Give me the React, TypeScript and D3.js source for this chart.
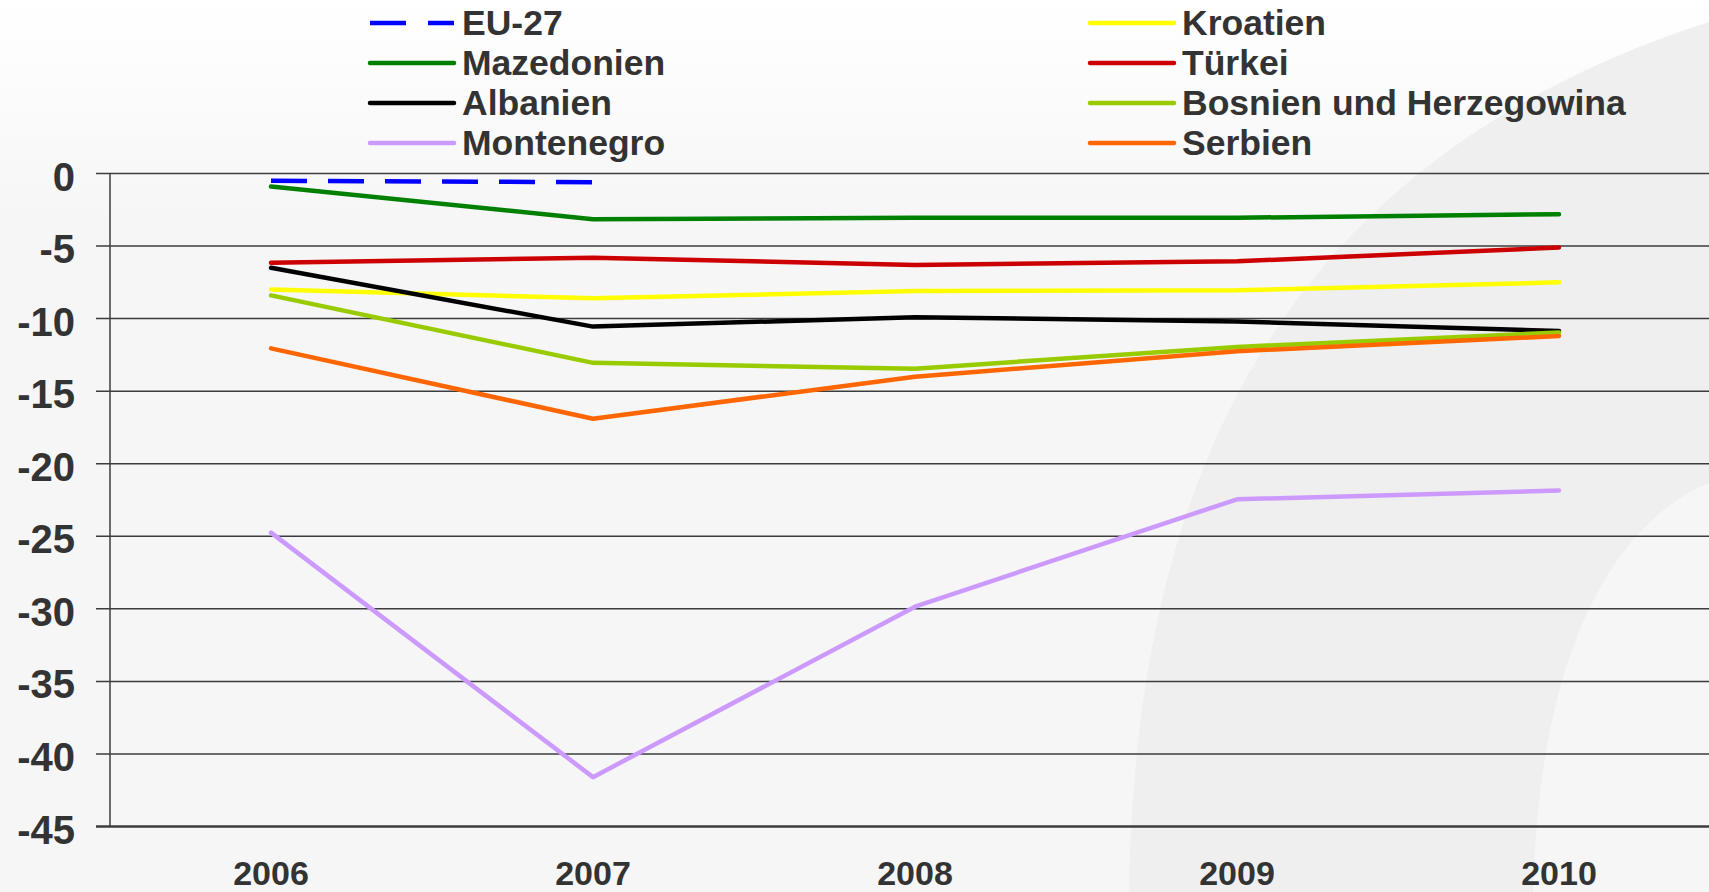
import React, { useRef, useEffect } from 'react';
import * as d3 from 'd3';

// --- DATA ---
const years = ['2006', '2007', '2008', '2009', '2010'];
const yTicks = [0, -5, -10, -15, -20, -25, -30, -35, -40, -45];

const eu27 = [-0.5, -0.6, null, null, null];
const mazedonien = [-0.9, -3.15, -3.05, -3.05, -2.8];
const albanien = [-6.5, -10.55, -9.9, -10.2, -10.85];
const montenegro = [-24.75, -41.6, -29.85, -22.45, -21.85];
const kroatien = [-8.0, -8.6, -8.1, -8.05, -7.5];
const tuerkei = [-6.15, -5.8, -6.3, -6.05, -5.1];
const bosnien = [-8.4, -13.05, -13.45, -11.95, -10.95];
const serbien = [-12.05, -16.9, -14.0, -12.25, -11.2];

// legend order: left column first row, right column first row, ...
const series = [
  { name: 'EU-27', values: eu27, color: '#0000ff', dash: '36 21' },
  { name: 'Kroatien', values: kroatien, color: '#ffff00' },
  { name: 'Mazedonien', values: mazedonien, color: '#008000' },
  { name: 'Türkei', values: tuerkei, color: '#cc0000' },
  { name: 'Albanien', values: albanien, color: '#000000' },
  { name: 'Bosnien und Herzegowina', values: bosnien, color: '#99cc00' },
  { name: 'Montenegro', values: montenegro, color: '#cc99ff' },
  { name: 'Serbien', values: serbien, color: '#ff6600' },
];

const W = 1709;
const H = 892;
const FONT = '"Liberation Sans", Arial, sans-serif';

export default function App() {
  const svgRef = useRef<SVGSVGElement>(null);

  useEffect(() => {
    if (!svgRef.current) return;
    const svg = d3.select(svgRef.current);
    svg.selectAll('*').remove();

    // plot area runs a little past the right edge of the window
    const x = d3.scalePoint<string>().domain(years).range([110, 1720]).padding(0.5);
    const y = d3.scaleLinear().domain([-45, 0]).range([826.5, 173.5]);

    // --- background ---
    const defs = svg.append('defs');
    const grad = defs.append('linearGradient')
      .attr('id', 'bg').attr('x1', 0).attr('y1', 0).attr('x2', 0).attr('y2', 1);
    grad.append('stop').attr('offset', '0%').attr('stop-color', '#ffffff');
    grad.append('stop').attr('offset', '25%').attr('stop-color', '#f6f6f6');
    grad.append('stop').attr('offset', '100%').attr('stop-color', '#f6f6f6');

    svg.append('rect').attr('width', W).attr('height', H).attr('fill', 'url(#bg)');

    // the soft swoosh on the right
    svg.append('path')
      .attr('d', `M1129,${H} C1135,520 1250,170 ${W},22 L${W},483 C1620,520 1540,640 1533,${H} Z`)
      .attr('fill', '#efefef');

    // --- grid + y axis ---
    svg.append('g')
      .selectAll('line')
      .data(yTicks)
      .enter()
      .append('line')
      .attr('x1', 96)
      .attr('x2', W)
      .attr('y1', d => y(d))
      .attr('y2', d => y(d))
      .attr('stroke', '#3c3c3c')
      .attr('stroke-width', d => (d === -45 ? 2.5 : 1.5));

    svg.append('line')
      .attr('x1', 110).attr('x2', 110)
      .attr('y1', y(0)).attr('y2', y(-45))
      .attr('stroke', '#3c3c3c')
      .attr('stroke-width', 1.5);

    svg.append('g')
      .selectAll('text')
      .data(yTicks)
      .enter()
      .append('text')
      .attr('x', 75)
      .attr('y', d => y(d) + 17)
      .attr('text-anchor', 'end')
      .attr('fill', '#333333')
      .style('font-family', FONT)
      .style('font-weight', 'bold')
      .style('font-size', '40px')
      .text(d => `${d}`);

    // --- x labels ---
    svg.append('g')
      .selectAll('text')
      .data(years)
      .enter()
      .append('text')
      .attr('x', d => x(d) || 0)
      .attr('y', 885)
      .attr('text-anchor', 'middle')
      .attr('fill', '#333333')
      .style('font-family', FONT)
      .style('font-weight', 'bold')
      .style('font-size', '34px')
      .text(d => d);

    // --- lines ---
    const line = d3.line<number | null>()
      .defined(d => d !== null)
      .x((_, i) => x(years[i]) || 0)
      .y(d => y(d as number));

    series.forEach(s => {
      svg.append('path')
        .attr('d', line(s.values) || '')
        .attr('fill', 'none')
        .attr('stroke', s.color)
        .attr('stroke-width', 4.5)
        .attr('stroke-linecap', s.dash ? 'butt' : 'round')
        .attr('stroke-linejoin', 'round')
        .attr('stroke-dasharray', s.dash || null);
    });

    // --- legend ---
    const legend = svg.append('g');
    series.forEach((s, i) => {
      const col = i % 2;
      const row = Math.floor(i / 2);
      const lx = col === 0 ? 370 : 1090;
      const ly = 23 + row * 40;
      legend.append('line')
        .attr('x1', lx).attr('x2', lx + 84)
        .attr('y1', ly).attr('y2', ly)
        .attr('stroke', s.color)
        .attr('stroke-width', 4.5)
        .attr('stroke-linecap', s.dash ? 'butt' : 'round')
        .attr('stroke-dasharray', s.dash ? '36 22' : null);
      legend.append('text')
        .attr('x', lx + 92)
        .attr('y', ly + 12)
        .attr('fill', '#333333')
        .style('font-family', FONT)
        .style('font-weight', 'bold')
        .style('font-size', '35.5px')
        .text(s.name);
    });
  }, []);

  return (
    <svg
      ref={svgRef}
      width={W}
      height={H}
      style={{ position: 'fixed', left: 0, top: 0, display: 'block' }}
    />
  );
}
